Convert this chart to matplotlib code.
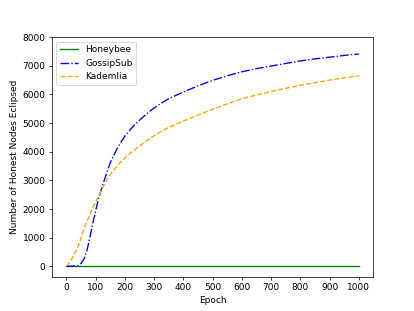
import matplotlib

matplotlib.use("Agg")
import matplotlib.pyplot as plt

epochs = [0, 20, 40, 50, 60, 70, 80, 90, 100, 110, 125, 140, 150, 175, 200,
          225, 250, 275, 300, 325, 350, 375, 400, 450, 500, 550, 600, 650,
          700, 750, 800, 850, 900, 950, 1000]

honeybee = [0] * len(epochs)
gossipsub = [0, 0, 20, 100, 250, 550, 1000, 1500, 1950, 2380, 2870, 3330,
             3620, 4150, 4550, 4850, 5100, 5330, 5530, 5700, 5850, 5970,
             6080, 6300, 6490, 6650, 6790, 6900, 6990, 7080, 7170, 7240,
             7300, 7360, 7410]
kademlia = [0, 280, 700, 1000, 1320, 1560, 1800, 2050, 2250, 2450, 2770,
            3050, 3200, 3530, 3780, 4000, 4200, 4390, 4560, 4710, 4850,
            4960, 5070, 5280, 5480, 5670, 5850, 5980, 6100, 6210, 6320,
            6410, 6500, 6580, 6650]

fig = plt.figure(figsize=(6.4, 4.8), dpi=64.84)
ax = fig.add_subplot(111)
ax.plot(epochs, honeybee, color="green", linestyle="-", label="Honeybee")
ax.plot(epochs, gossipsub, color="blue", linestyle="-.", label="GossipSub")
ax.plot(epochs, kademlia, color="orange", linestyle="--", label="Kademlia")
ax.set_xticks(range(0, 1001, 100))
ax.set_ylim(top=8000)
ax.set_xlabel("Epoch")
ax.set_ylabel("Number of Honest Nodes Eclipsed")
ax.legend(loc="upper left")
fig.savefig("out.png", dpi=64.84)
